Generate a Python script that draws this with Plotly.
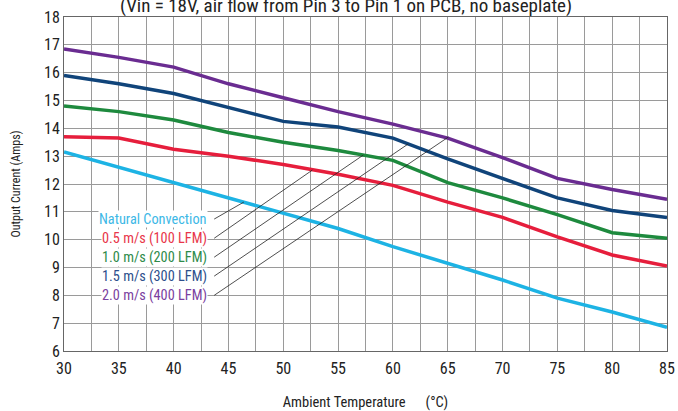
import plotly.graph_objects as go

temps = [30, 35, 40, 45, 50, 55, 60, 65, 70, 75, 80, 85]
natural = [13.15, 12.6, 12.05, 11.5, 10.95, 10.4, 9.75, 9.15, 8.55, 7.9, 7.4, 6.85]
lfm100 = [13.7, 13.65, 13.25, 13.0, 12.7, 12.35, 11.95, 11.35, 10.8, 10.1, 9.45, 9.05]
lfm200 = [14.8, 14.6, 14.3, 13.85, 13.5, 13.2, 12.85, 12.05, 11.5, 10.9, 10.25, 10.05]
lfm300 = [15.9, 15.6, 15.25, 14.75, 14.25, 14.05, 13.65, 12.9, 12.2, 11.5, 11.05, 10.8]
lfm400 = [16.85, 16.55, 16.2, 15.6, 15.1, 14.6, 14.15, 13.65, 12.95, 12.2, 11.8, 11.45]

names = ["Natural Convection", "0.5 m/s (100 LFM)", "1.0 m/s (200 LFM)",
         "1.5 m/s (300 LFM)", "2.0 m/s (400 LFM)"]
series = [natural, lfm100, lfm200, lfm300, lfm400]
line_colors = ["#1DB3E4", "#E61E3C", "#1E8A3E", "#10447A", "#6A2C91"]
text_colors = ["#3DB8E6", "#E8364A", "#2E8B4A", "#2D4F8C", "#7B41A0"]

label_y = [10.74, 10.05, 9.37, 8.69, 8.0]
leader_end = [(46.4, 11.35), (52.65, 12.5), (57.3, 13.04), (61.4, 13.44), (65.07, 13.69)]

FONT = "Roboto Condensed, DejaVu Sans Condensed, Liberation Sans Narrow, Arial Narrow, sans-serif"

fig = go.Figure()
for name, ys, c in zip(names, series, line_colors):
    fig.add_trace(go.Scatter(x=temps, y=ys, mode="lines", name=name,
                             line=dict(color=c, width=3.5), showlegend=False))

shapes = []
annotations = []
for name, ly, (ex, ey), tc in zip(names, label_y, leader_end, text_colors):
    shapes.append(dict(type="line", xref="x", yref="y", x0=43.7, y0=ly, x1=ex, y1=ey,
                       line=dict(color="#222", width=0.8), layer="above"))
    annotations.append(dict(x=43.1, y=ly, xref="x", yref="y", text=name, showarrow=False,
                            xanchor="right", yanchor="middle",
                            font=dict(family=FONT, size=14.3, color=tc),
                            bgcolor="white", borderpad=0))

annotations.append(dict(x=0.468, y=1, xref="paper", yref="paper", yshift=12,
                        text="(Vin = 18V, air flow from Pin 3 to Pin 1 on PCB, no baseplate)",
                        showarrow=False, xanchor="center", yanchor="middle",
                        font=dict(family=FONT, size=19, color="#222")))

fig.update_layout(
    width=678, height=411,
    margin=dict(l=64, r=11, t=17, b=60),
    plot_bgcolor="white", paper_bgcolor="white",
    font=dict(family=FONT, color="#222"),
    shapes=shapes, annotations=annotations,
    xaxis=dict(range=[30, 85], dtick=5, tick0=30, showgrid=True, gridcolor="#9a9a9a",
               gridwidth=1, minor=dict(dtick=2.5, showgrid=True, gridcolor="#9a9a9a", gridwidth=1),
               showline=True, linecolor="#666", mirror=True, ticks="", automargin=False,
               ticklabelstandoff=3,
               tickfont=dict(family=FONT, size=16, color="#222"),
               title=dict(text="Ambient Temperature&nbsp;&nbsp;&nbsp;&nbsp;&nbsp;&nbsp;(°C)",
                          font=dict(family=FONT, size=14.5, color="#222"), standoff=28),
               zeroline=False),
    yaxis=dict(range=[6, 18], dtick=1, showgrid=True, gridcolor="#9a9a9a", gridwidth=1,
               showline=True, linecolor="#666", mirror=True, ticks="", automargin=False,
               tickfont=dict(family=FONT, size=16, color="#222"),
               title=dict(text="Output Current (Amps)",
                          font=dict(family=FONT, size=12, color="#222"), standoff=20),
               zeroline=False),
)

fig.write_html("out.html", config={"displayModeBar": False},
               post_script="document.body.style.margin='0';document.body.style.overflow='hidden';")
